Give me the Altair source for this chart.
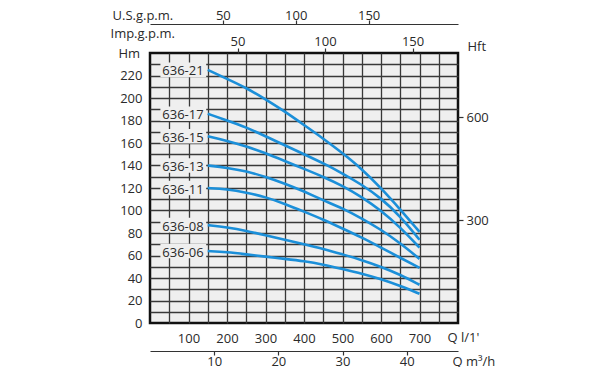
import altair as alt
import pandas as pd

# ---- data ----
flow_lpm = [150, 200, 250, 300, 350, 400, 450, 500, 550, 600, 650, 700]
models = ["636-21", "636-17", "636-15", "636-13", "636-11", "636-08", "636-06"]
h_636_21 = [225, 217, 209, 199, 188, 176, 164, 151, 137, 120, 101, 81]
h_636_17 = [186, 180, 174, 166, 158, 150, 142, 133, 123, 111, 95, 74]
h_636_15 = [166, 162, 157, 151, 144, 137, 130, 122, 112, 100, 85, 67]
h_636_13 = [140, 138, 135, 130, 124, 117, 109, 102, 93, 83, 71, 57]
h_636_11 = [120, 119, 116, 112, 106, 99, 92, 84, 76, 67, 58, 49]
h_636_08 = [87, 85, 82, 78, 74, 70, 66, 61, 56, 50, 43, 34]
h_636_06 = [64, 63, 61, 59, 57, 55, 52, 48, 44, 39, 33, 26]
heads = [h_636_21, h_636_17, h_636_15, h_636_13, h_636_11, h_636_08, h_636_06]

q_grid = list(range(50, 800, 50))          # l/min grid / tick values
h_grid = list(range(0, 240, 10))           # m grid / tick values
hft_ticks = [300, 600]
imp_ticks = [50, 100, 150]
us_ticks = [50, 100, 150]
m3h_ticks = [10, 20, 30, 40]

Q_MAX = 800
H_MAX = 240
IMP_MAX = Q_MAX / 4.54609
US_MAX = Q_MAX / 3.785411784
M3H_MAX = Q_MAX * 60 / 1000
FT_MAX = H_MAX * 3.28084

FONT = "Open Sans"
BLUE = "#1b8fd9"
GRID = "#383838"
TXT = "#2a2a2a"
BG = "#efefef"

rows = []
for m, hs in zip(models, heads):
    for q, h in zip(flow_lpm, hs):
        rows.append({"model": m, "Q": q, "H": h})
df = pd.DataFrame(rows)

lab = pd.DataFrame({"model": models, "H": [hs[0] for hs in heads]})
lab["y1"] = lab["H"] - 6.5
lab["y2"] = lab["H"] + 6.5

xscale = alt.Scale(domain=[0, Q_MAX], nice=False, zero=True)
yscale = alt.Scale(domain=[0, H_MAX], nice=False, zero=True)

common = dict(labelFont=FONT, labelFontSize=13, labelColor=TXT,
              titleFont=FONT, titleFontSize=13, titleColor=TXT,
              titleFontWeight="normal", labelOverlap=False, labelFlush=False)

x_axis = alt.Axis(orient="bottom", values=q_grid,
                  labelExpr="datum.value >= 100 && datum.value <= 700 && datum.value % 100 == 0 ? datum.label : ''",
                  grid=True, gridColor=GRID, gridWidth=1.3, ticks=False, tickSize=0,
                  domain=False, labelPadding=9,
                  title="Q l/1'", titleX=297, titleY=18, titleAlign="left",
                  titleBaseline="alphabetic", **common)
y_axis = alt.Axis(orient="left", values=h_grid,
                  labelExpr="datum.value % 20 == 0 && datum.value <= 220 ? datum.label : ''",
                  grid=True, gridColor=GRID, gridWidth=1.3,
                  gridOpacity={"condition": {"test": "datum.value == 0", "value": 0}, "value": 1},
                  ticks=False, tickSize=0, domain=False, labelPadding=8,
                  title="Hm", titleAngle=0, titleX=-32, titleY=4, titleAlign="left",
                  titleBaseline="alphabetic", **common)

curves = alt.Chart(df).mark_line(color=BLUE, strokeWidth=2.6, interpolate="basis").encode(
    x=alt.X("Q:Q", scale=xscale, axis=x_axis),
    y=alt.Y("H:Q", scale=yscale, axis=y_axis),
    detail="model:N",
)
boxes = alt.Chart(lab).mark_rect(fill=BG).encode(
    x=alt.X(datum=27, scale=xscale, axis=x_axis),
    x2=alt.X2(datum=146),
    y=alt.Y("y1:Q", scale=yscale, axis=y_axis),
    y2="y2:Q",
)
texts = alt.Chart(lab).mark_text(align="left", baseline="middle", font=FONT, fontSize=13,
                                 color=TXT, dy=1.5).encode(
    x=alt.X(datum=32, scale=xscale, axis=x_axis),
    y=alt.Y("H:Q", scale=yscale, axis=y_axis),
    text="model:N",
)
main = alt.layer(curves, boxes, texts)


def helper(vmax):
    return pd.DataFrame({"v": [0, vmax]})


imp_layer = alt.Chart(helper(IMP_MAX)).mark_point(opacity=0).encode(
    x=alt.X("v:Q", scale=alt.Scale(domain=[0, IMP_MAX], nice=False),
            axis=alt.Axis(orient="top", values=imp_ticks, grid=False, domain=False,
                          tickSize=5, tickColor="#333", tickWidth=1.2, labelPadding=3,
                          labelBaseline="alphabetic",
                          title="Imp.g.p.m.", titleX=-40, titleY=-16, titleAlign="left",
                          titleBaseline="alphabetic", **common)),
    y=alt.value(0),
)
us_layer = alt.Chart(helper(US_MAX)).mark_point(opacity=0).encode(
    x=alt.X("v:Q", scale=alt.Scale(domain=[0, US_MAX], nice=False),
            axis=alt.Axis(orient="top", offset=29, values=us_ticks, grid=False, domain=True,
                          domainColor="#333", domainWidth=1.2,
                          tickSize=4, tickColor="#333", tickWidth=1.2, labelPadding=1,
                          labelBaseline="alphabetic",
                          title="U.S.g.p.m.", titleX=-38, titleY=-5, titleAlign="left",
                          titleBaseline="alphabetic", **common)),
    y=alt.value(0),
)
m3h_layer = alt.Chart(helper(M3H_MAX)).mark_point(opacity=0).encode(
    x=alt.X("v:Q", scale=alt.Scale(domain=[0, M3H_MAX], nice=False),
            axis=alt.Axis(orient="bottom", offset=28, values=m3h_ticks, grid=False, domain=True,
                          domainColor="#333", domainWidth=1.2,
                          tickSize=4, tickColor="#333", tickWidth=1.2, labelPadding=0,
                          title="Q m³/h", titleX=302, titleY=14, titleAlign="left",
                          titleBaseline="alphabetic", **common)),
    y=alt.value(0),
)
ft_layer = alt.Chart(helper(FT_MAX)).mark_point(opacity=0).encode(
    y=alt.Y("v:Q", scale=alt.Scale(domain=[0, FT_MAX], nice=False),
            axis=alt.Axis(orient="right", values=hft_ticks, grid=False, domain=False,
                          tickSize=5, tickColor="#333", tickWidth=1.2, labelPadding=3,
                          title="Hft", titleAngle=0, titleX=9, titleY=-3, titleAlign="left",
                          titleBaseline="alphabetic", **common)),
    x=alt.value(0),
)

chart = alt.layer(main, imp_layer, us_layer, m3h_layer, ft_layer).resolve_scale(
    x="independent", y="independent"
).properties(
    width=308, height=270,
    autosize=alt.AutoSizeParams(type="none"),
    padding={"left": 142, "top": 45, "right": 130, "bottom": 44},
).configure_view(fill=BG, stroke="#111111", strokeWidth=2.5)

chart.save("out.html", embed_options={"renderer": "svg", "actions": False})
